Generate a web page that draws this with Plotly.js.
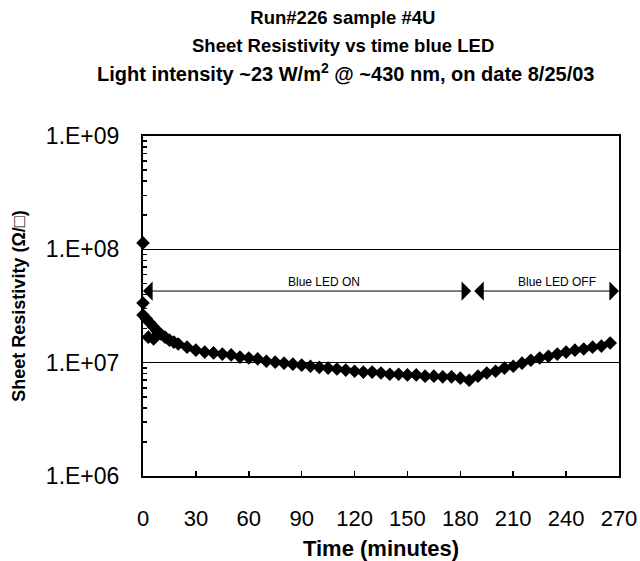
<!DOCTYPE html>
<html><head><meta charset="utf-8">
<script src="https://cdn.plot.ly/plotly-3.0.1.min.js"></script>
<style>html,body{margin:0;padding:0;background:#fff;} #chart{width:640px;height:561px;}</style>
</head><body><div id="chart"></div>
<script>
// ---- data ----
const titleLines = [
  'Run#226 sample #4U',
  'Sheet Resistivity vs time blue LED',
  'Light intensity ~23 W/m<sup>2</sup> @ ~430 nm, on date 8/25/03'
];
const initTime = [0, 0, 3, 6];
const initRes  = [1.14e8, 3.36e7, 1.68e7, 1.62e7];
const timeMin = [0, 2, 4, 6, 8, 10, 12.5, 15, 17.5, 20, 25, 30, 35, 40, 45, 50, 55, 60, 65, 70, 75, 80,
  85, 90, 95, 100, 105, 110, 115, 120, 125, 130, 135, 140, 145, 150, 155, 160, 165, 170, 175, 180,
  185, 190, 195, 200, 205, 210, 215, 220, 225, 230, 235, 240, 245, 250, 255, 260, 265];
const sheetRes = [2.63e7, 2.43e7, 2.24e7, 2.06e7, 1.90e7, 1.79e7, 1.68e7, 1.58e7, 1.52e7, 1.46e7, 1.37e7, 1.29e7,
  1.24e7, 1.22e7, 1.19e7, 1.17e7, 1.12e7, 1.10e7, 1.08e7, 1.03e7, 1.01e7, 9.9e6,
  9.7e6, 9.5e6, 9.3e6, 9.1e6, 8.96e6, 8.8e6, 8.6e6, 8.4e6, 8.26e6, 8.26e6,
  8.1e6, 7.9e6, 7.9e6, 7.8e6, 7.8e6, 7.6e6, 7.6e6, 7.5e6, 7.5e6, 7.3e6,
  7.0e6, 7.6e6, 8.1e6, 8.4e6, 8.96e6, 9.3e6, 9.9e6, 1.05e7, 1.10e7, 1.14e7,
  1.19e7, 1.24e7, 1.29e7, 1.32e7, 1.37e7, 1.40e7, 1.49e7];
const xTickVals = [0, 30, 60, 90, 120, 150, 180, 210, 240, 270];
const yTickVals = [1e6, 1e7, 1e8, 1e9];
const yTickText = ['1.E+06', '1.E+07', '1.E+08', '1.E+09'];
const ledLabels = ['Blue LED ON', 'Blue LED OFF'];
const ledSwitchMin = 187;

// ---- build ----
const F = '"Liberation Sans", Arial, Helvetica, sans-serif';
const minorVals = [];
for (let d = 6; d < 9; d++) for (let m = 2; m <= 9; m++) minorVals.push(m * Math.pow(10, d));

const allT = initTime.concat(timeMin);
const allR = initRes.concat(sheetRes);

const trace = {
  x: allT, y: allR, type: 'scatter', mode: 'markers', cliponaxis: false,
  marker: {symbol: 'diamond', size: 10.5, color: '#000', line: {width: 0}},
  showlegend: false, hoverinfo: 'x+y'
};

const arrowY = 7.632, labelY = 7.711;
const arrowBase = {xref: 'x', yref: 'y', axref: 'x', ayref: 'y', text: '', showarrow: true,
  arrowhead: 1, arrowside: 'end+start', arrowsize: 3.2, arrowwidth: 1, arrowcolor: '#000',
  standoff: 0, startstandoff: 0};

const layout = {
  width: 640, height: 561,
  margin: {l: 143, r: 21, t: 136, b: 85, pad: 0},
  paper_bgcolor: '#fff', plot_bgcolor: '#fff',
  font: {family: F, color: '#000'},
  title: {text: titleLines[0], font: {family: F, size: 18.5, weight: 'bold', color: '#000'},
    xref: 'paper', x: 0.42, xanchor: 'center', yref: 'container', y: 1 - 18 / 561, yanchor: 'middle'},
  xaxis: {
    range: [0, 270], tickmode: 'array', tickvals: xTickVals,
    ticks: 'inside', ticklen: 5, tickwidth: 1.5, tickcolor: '#000',
    showline: true, linecolor: '#000', linewidth: 2, mirror: true,
    showgrid: false, zeroline: false,
    tickfont: {family: F, size: 22, color: '#000'}, ticklabelstandoff: 22,
    title: {text: 'Time (minutes)', font: {family: F, size: 22, weight: 'bold', color: '#000'}, standoff: 12}
  },
  yaxis: {
    type: 'log', range: [6, 9], tickmode: 'array', tickvals: yTickVals, ticktext: yTickText,
    ticks: 'inside', ticklen: 7, tickwidth: 1.5, tickcolor: '#000',
    minor: {tickmode: 'array', tickvals: minorVals, ticks: 'inside', ticklen: 4, tickwidth: 1.5, tickcolor: '#000', showgrid: false},
    showline: true, linecolor: '#000', linewidth: 2, mirror: true,
    showgrid: true, gridcolor: '#000', gridwidth: 1, zeroline: false,
    tickfont: {family: F, size: 23, color: '#000'}, ticklabelstandoff: 17,
    title: {text: 'Sheet Resistivity (Ω/□)', font: {family: F, size: 18, weight: 'bold', color: '#000'}, standoff: 16}
  },
  shapes: [
    {type: 'line', xref: 'x', yref: 'y', x0: ledSwitchMin, x1: ledSwitchMin, y0: 6.917, y1: 7.729,
     line: {color: '#000', width: 1}}
  ],
  annotations: [
    {text: titleLines[1], xref: 'paper', yref: 'paper', x: 0.42, y: (476 - 45) / 340, xanchor: 'center', yanchor: 'middle',
     showarrow: false, font: {family: F, size: 18.5, weight: 'bold', color: '#000'}},
    {text: titleLines[2], xref: 'paper', yref: 'paper', x: 0.426, y: (476 - 72) / 340, xanchor: 'center', yanchor: 'middle',
     showarrow: false, font: {family: F, size: 20, weight: 'bold', color: '#000'}},
    Object.assign({}, arrowBase, {x: 0, y: arrowY, ax: ledSwitchMin, ay: arrowY}),
    Object.assign({}, arrowBase, {x: 270, y: arrowY, ax: ledSwitchMin, ay: arrowY}),
    {text: ledLabels[0], xref: 'x', yref: 'y', x: 102.7, y: labelY, showarrow: false,
     font: {family: F, size: 12, color: '#000'}, xanchor: 'center', yanchor: 'middle'},
    {text: ledLabels[1], xref: 'x', yref: 'y', x: 234.8, y: labelY, showarrow: false,
     font: {family: F, size: 12, color: '#000'}, xanchor: 'center', yanchor: 'middle'}
  ]
};

Plotly.newPlot('chart', [trace], layout, {displayModeBar: false, staticPlot: true});
</script></body></html>
